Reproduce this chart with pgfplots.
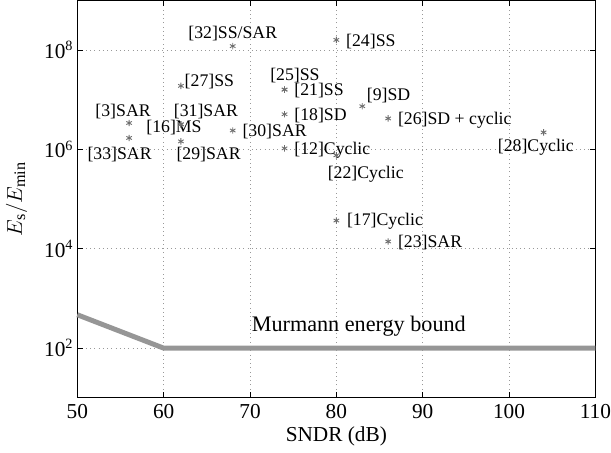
\documentclass[border=0pt]{standalone}
\usepackage{fontspec}
\setmainfont{Liberation Serif}
\usepackage{pgfplots}
\pgfplotsset{compat=1.18}

\definecolor{boundgray}{RGB}{150,150,150}
\definecolor{markgray}{RGB}{110,110,110}

\begin{document}
\begin{tikzpicture}
\begin{axis}[
    scale only axis,
    width=292pt, height=224pt,
    xmin=50, xmax=110,
    ymode=log, ymin=1e1, ymax=1e9,
    xtick={50,60,...,110},
    ytick={1e2,1e4,1e6,1e8},
    yticklabels={10\textsuperscript{2},10\textsuperscript{4},10\textsuperscript{6},10\textsuperscript{8}},
    minor tick num=0,
    /pgf/number format/assume math mode=true,
    tick align=inside,
    tick style={black, thin},
    major tick length=3pt,
    grid=major,
    grid style={dotted, gray!80},
    axis line style={black, thin},
    xlabel={SNDR (dB)},
    ylabel={$E_{\mathrm{s}}/E_{\mathrm{min}}$},
    ticklabel style={font=\fontsize{12}{14}\selectfont},
    xticklabel style={inner xsep=0pt},
    yticklabel style={inner xsep=2pt},
    xlabel style={font=\fontsize{12}{14}\selectfont, yshift=2pt},
    ylabel style={font=\fontsize{13}{15}\selectfont, yshift=4pt},
    clip=false,
]
% Murmann energy bound
\addplot[boundgray, line width=2.8pt, line join=round] coordinates {
(50,470) (60,100) (110,100)};

% published converters
\addplot[only marks, mark=asterisk, mark size=1.8pt, markgray, line width=0.5pt] coordinates {
(68,1.2e8)   % [32]
(80,1.6e8)   % [24]
(62,1.9e7)   % [27]
(74,1.6e7)   % [25]
(74,1.6e7)   % [21]
(83,7.4e6)   % [9]
(74,5.1e6)   % [18]
(86,4.2e6)   % [26]
(56,3.4e6)   % [3]
(62,3.2e6)   % [16]
(62,3.2e6)   % [31]
(68,2.4e6)   % [30]
(104,2.2e6)  % [28]
(56,1.7e6)   % [33]
(62,1.45e6)  % [29]
(74,1.05e6)  % [12]
(80,7.6e5)   % [22]
(80,3.7e4)   % [17]
(86,1.4e4)   % [23]
};

\node at (axis cs:68,2.1e8) {[32]SS/SAR};
\node[anchor=west, inner sep=0pt] at (axis cs:81.1,1.5e8) {[24]SS};
\node[anchor=west, inner sep=0pt] at (axis cs:62.4,2.3e7) {[27]SS};
\node at (axis cs:75.2,3.1e7) {[25]SS};
\node[anchor=west, inner sep=0pt] at (axis cs:75.1,1.5e7) {[21]SS};
\node[anchor=west, inner sep=0pt] at (axis cs:83.5,1.23e7) {[9]SD};
\node[anchor=west, inner sep=0pt] at (axis cs:75.1,4.9e6) {[18]SD};
\node[anchor=west, inner sep=0pt] at (axis cs:87.1,3.9e6) {[26]SD + cyclic};
\node at (axis cs:103.1,1.1e6) {[28]Cyclic};
\node[anchor=west, inner sep=0pt] at (axis cs:75.1,9.5e5) {[12]Cyclic};
\node at (axis cs:83.4,3.1e5) {[22]Cyclic};
\node[anchor=west, inner sep=0pt] at (axis cs:81.2,3.5e4) {[17]Cyclic};
\node[anchor=west, inner sep=0pt] at (axis cs:87.1,1.32e4) {[23]SAR};
\node at (axis cs:55.3,5.9e6) {[3]SAR};
\node at (axis cs:54.9,8e5) {[33]SAR};
\node at (axis cs:64.9,5.9e6) {[31]SAR};
\node at (axis cs:61.2,2.75e6) {[16]MS};
\node at (axis cs:65.2,8e5) {[29]SAR};
\node[anchor=west, inner sep=0pt] at (axis cs:69.1,2.3e6) {[30]SAR};
\node[font=\fontsize{12.5}{14}\selectfont] at (axis cs:82.6,2.8e2) {Murmann energy bound};
\end{axis}
\end{tikzpicture}
\end{document}
